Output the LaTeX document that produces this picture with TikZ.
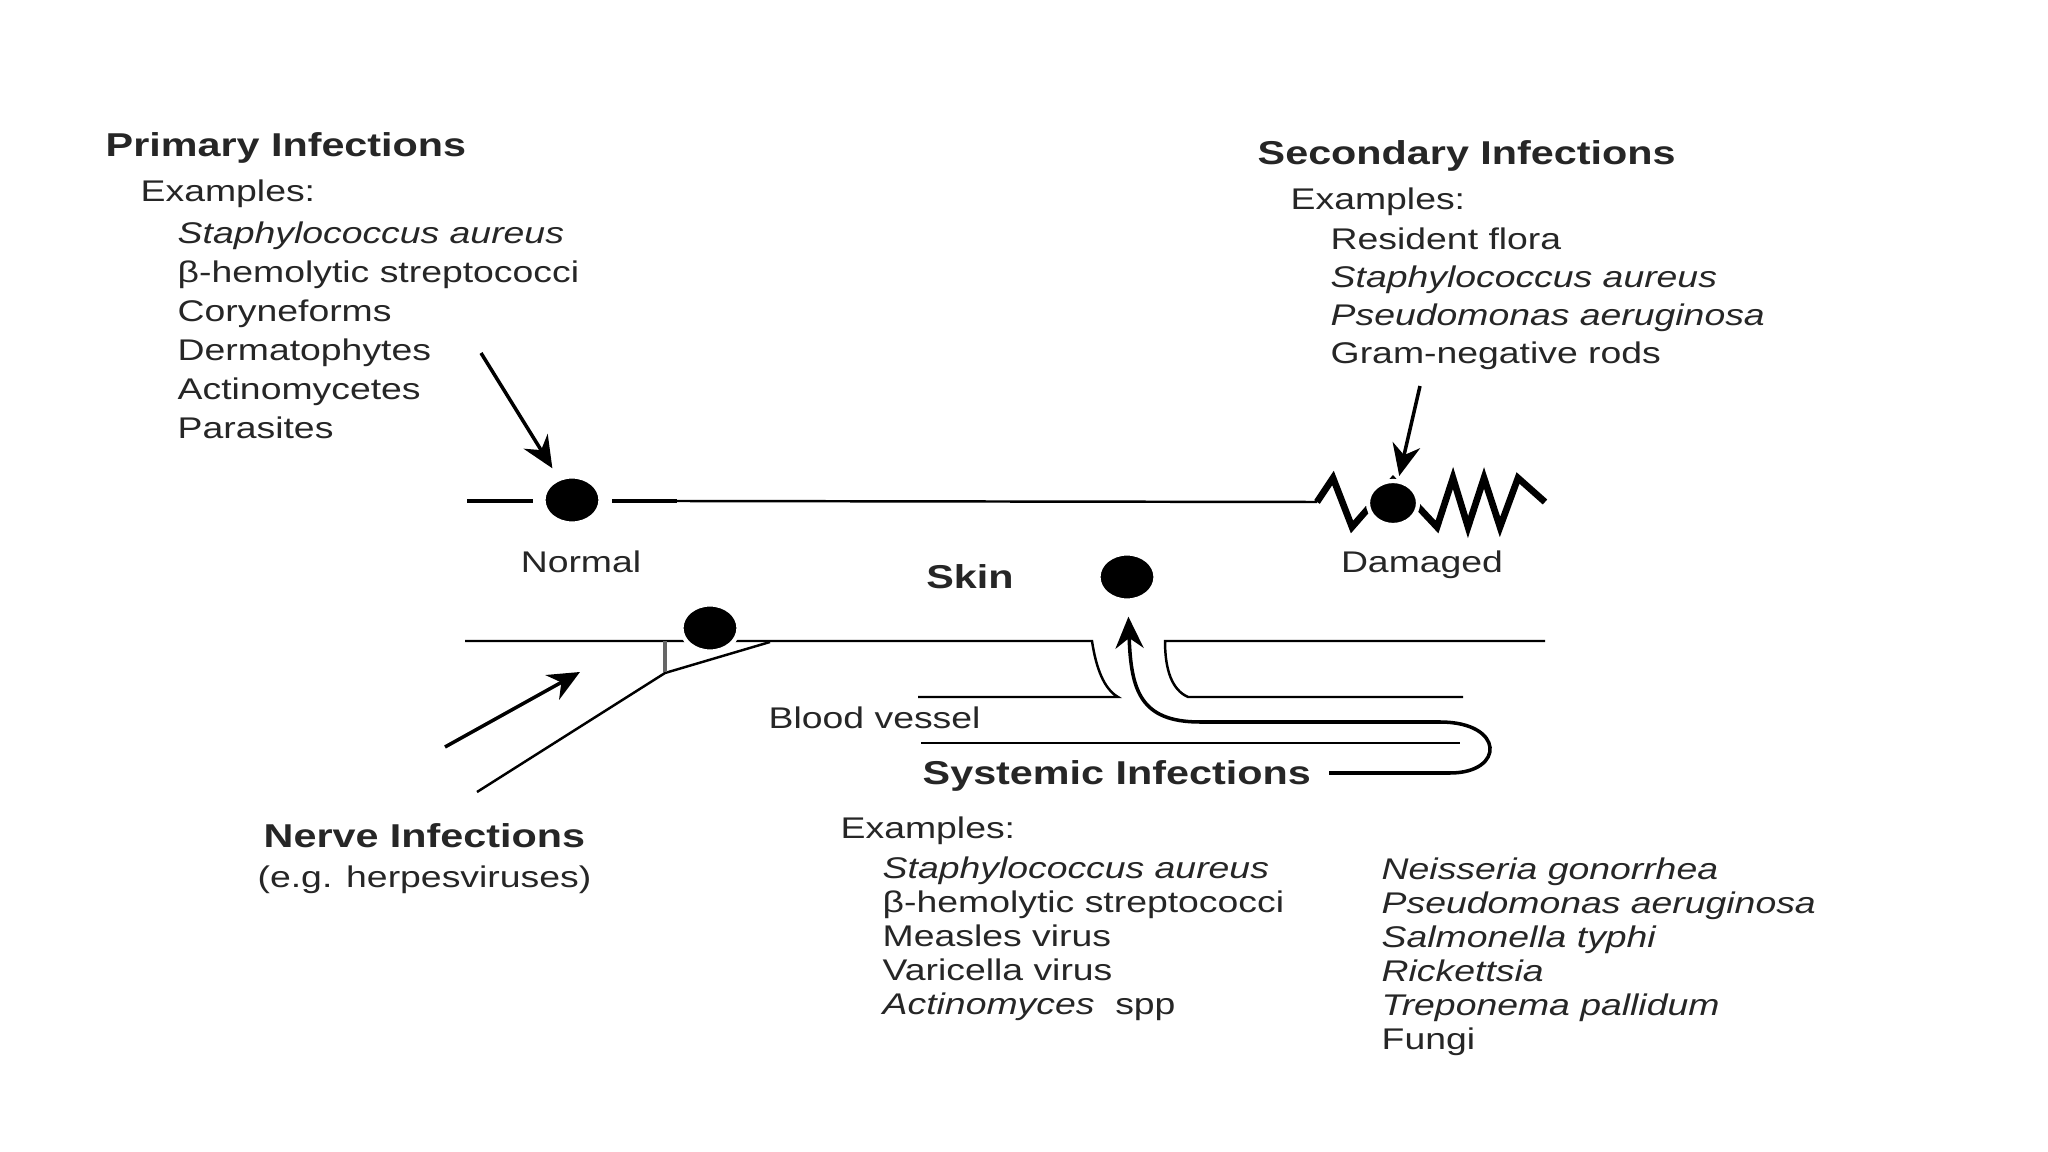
\documentclass[tikz,border=0pt]{standalone}
\usepackage{fontspec}
\setmainfont{Liberation Sans}[FakeStretch=1.25]
\usetikzlibrary{arrows.meta, positioning, shapes.geometric}

\begin{document}
\begin{tikzpicture}[
    x=0.01cm, y=-0.01cm,
    head/.style={font=\bfseries\fontsize{9.4}{11}\selectfont, text=black!85, inner sep=0pt},
    txt/.style={font=\fontsize{8.5}{10}\selectfont, text=black!85, inner sep=0pt},
    lst/.style={txt, align=left, anchor=north west},
    blob/.style={ellipse, fill=black, draw=white, line width=1.2pt, inner sep=0pt, minimum width=0.57cm, minimum height=0.47cm},
    skin/.style={line width=0.7pt},
    arrow/.style={-{Stealth[length=9pt, width=8pt]}, line width=1pt}
]

\fill[white] (0,0) rectangle (2048,1152);
\useasboundingbox (0,0) rectangle (2048,1152);

\node[head, anchor=base west] (primhead) at (105,157) {Primary Infections};
\node[txt, anchor=base west]  (primex)   at (140,202) {Examples:};
\node[lst, font=\fontsize{8.5}{11.1}\selectfont] (primlist) at (177,221)
    {\textit{Staphylococcus aureus}\\β-hemolytic streptococci\\Coryneforms\\Dermatophytes\\Actinomycetes\\Parasites};

\node[head, anchor=base west] (sechead) at (1257,165) {Secondary Infections};
\node[txt, anchor=base west]  (secex)   at (1290,210) {Examples:};
\node[lst, font=\fontsize{8.5}{10.8}\selectfont] (seclist) at (1330,227)
    {Resident flora\\\textit{Staphylococcus aureus}\\\textit{Pseudomonas aeruginosa}\\Gram-negative rods};

\node[txt]               (normal)  at (581,562)  {Normal};
\node[txt, anchor=base]  (damaged) at (1422,573) {Damaged};
\node[head]              (skin)    at (970,577)  {Skin};
\node[txt, anchor=base west]  (blood)  at (768,728) {Blood vessel};
\node[head, anchor=base west] (sysinf) at (922,784) {Systemic Infections};
\node[txt, anchor=base west]  (sysex)  at (840,838) {Examples:};
\node[lst, font=\fontsize{8.5}{9.7}\selectfont] (syslistl) at (882,856)
    {\textit{Staphylococcus aureus}\\β-hemolytic streptococci\\Measles virus\\Varicella virus\\\textit{Actinomyces}\ \ spp};
\node[lst, font=\fontsize{8.5}{9.7}\selectfont] (syslistr) at (1381,857)
    {\textit{Neisseria gonorrhea}\\\textit{Pseudomonas aeruginosa}\\\textit{Salmonella typhi}\\\textit{Rickettsia}\\\textit{Treponema pallidum}\\Fungi};
\node[head, anchor=base west] (nervehead) at (263,847) {Nerve Infections};
\node[txt, below=0.17cm of nervehead] (nervesub) {(e.g. herpesviruses)};

% skin surface, normal and damaged
\draw[line width=1.3pt] (467,501) -- (533,501);
\draw[line width=1.3pt] (612,501) -- (677,501);
\draw[skin] (677,501) -- (1317,502);
\draw[line width=1.9pt] (1317,502) -- (1333,478) -- (1352,527) -- (1393,480) -- (1437,527)
    -- (1453,478) -- (1468,527) -- (1484,478) -- (1500,527) -- (1518,478) -- (1545,502);

% skin, pore and blood vessel
\draw[skin] (465,641) -- (1092,641) .. controls (1096,668) and (1104,689) .. (1118,697) -- (918,697);
\draw[skin] (1545,641) -- (1165,641) .. controls (1165,670) and (1172,690) .. (1188,697) -- (1463,697);
\draw[skin] (921,743) -- (1460,743);
\draw[skin] (477,792) -- (665,673) -- (770,642);
\draw[line width=1pt, black!60] (665,641) -- (665,672);

\node[blob] (normaldot) at (572,500) {};
\node[blob, minimum width=0.5cm, minimum height=0.44cm] (damdot) at (1393,503) {};
\node[blob] (skindot)   at (1127,577) {};
\node[blob] (nervedot)  at (710,628) {};

\coordinate (primtail)  at (481,353);
\coordinate (sectail)   at (1420,386);
\coordinate (nervetail) at (445,747);
\coordinate (nervetip)  at (580,672);
\coordinate (ubot)      at (1450,773);

\draw[arrow, shorten >=3pt] (primtail) -- (normaldot);
\draw[arrow, shorten >=1pt] (sectail) -- (damdot);
\draw[arrow] (nervetail) -- (nervetip);
\draw[arrow, shorten <=5pt, shorten >=4pt] (sysinf.east |- ubot) -- (ubot)
    .. controls +(55,0) and +(65,0) .. (1440,722) -- (1200,722)
    .. controls (1140,722) and (1131,690) .. (skindot);

\end{tikzpicture}
\end{document}
